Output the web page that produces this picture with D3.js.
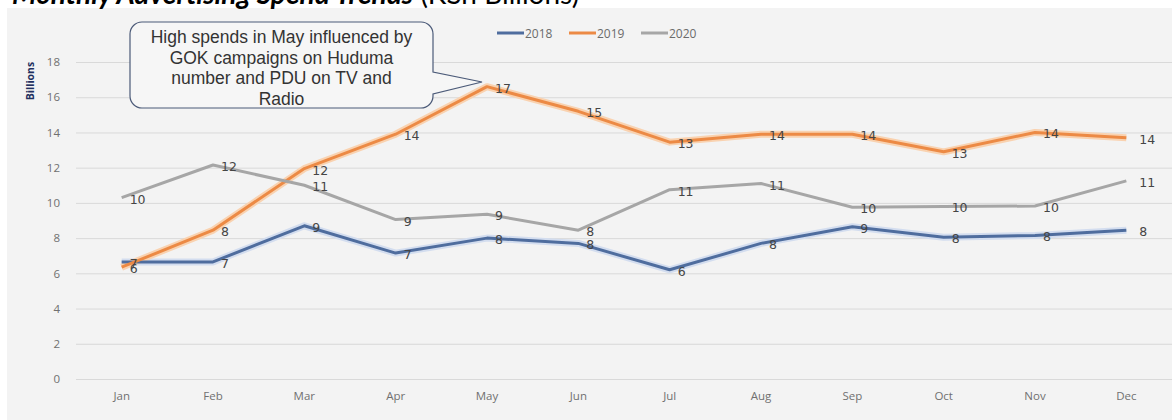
<!DOCTYPE html>
<html>
<head>
<meta charset="utf-8">
<script src="https://cdn.jsdelivr.net/npm/d3@7"></script>
<style>
    body { margin: 0; background: #fff; }
    svg { display: block; }
    .tick text { fill: #707070; font-family: 'Open Sans', sans-serif; font-size: 11.5px; }
    .value-label { fill: #454545; font-family: 'DejaVu Sans', sans-serif; font-size: 12.5px; }
</style>
</head>
<body>
<div id="chart"></div>
<script>
const months = ['Jan', 'Feb', 'Mar', 'Apr', 'May', 'Jun', 'Jul', 'Aug', 'Sep', 'Oct', 'Nov', 'Dec'];
const yearKeys = ['2018', '2019', '2020'];
const spend2018 = [6.65, 6.65, 8.7, 7.15, 8.0, 7.7, 6.2, 7.7, 8.65, 8.05, 8.15, 8.45];
const spend2019 = [6.35, 8.45, 11.95, 13.9, 16.6, 15.2, 13.45, 13.9, 13.9, 12.9, 14.0, 13.7];
const spend2020 = [10.3, 12.15, 11.0, 9.05, 9.35, 8.45, 10.75, 11.1, 9.75, 9.8, 9.82, 11.25];
const yTicks = [0, 2, 4, 6, 8, 10, 12, 14, 16, 18];
const calloutLines = ['High spends in May influenced by', 'GOK campaigns on Huduma', 'number and PDU on TV and', 'Radio'];

const COLORS = { '2018': '#4f6d9e', '2019': '#ec8a45', '2020': '#a6a6a6' };
const GLOW = { '2018': '#d3ddef', '2019': '#f9d2b0', '2020': null };

const width = 1172;
const height = 420;
const margin = { top: 62, bottom: 41, left: 76, right: 0 };

const svg = d3.select('#chart').append('svg').attr('width', width).attr('height', height);

// chart panel background
svg.append('rect').attr('x', 7).attr('y', 8).attr('width', width - 7).attr('height', height - 8).attr('fill', '#f3f3f3');

// title, mostly cut off by the top edge
const title = svg.append('text').attr('x', 12).attr('y', 4)
    .style('font-family', 'Lato, sans-serif').style('font-size', '28px').attr('fill', '#000');
title.append('tspan').style('font-weight', 'bold').style('font-style', 'italic').text('Monthly Advertising Spend Trends');
title.append('tspan').text(' (KSh Billions)');

const xScale = d3.scaleBand().domain(months).range([margin.left, width - margin.right]);
const yScale = d3.scaleLinear().domain([0, 18]).range([height - margin.bottom, margin.top]);
const cx = (m) => xScale(m) + xScale.bandwidth() / 2;

// grid lines
svg.append('g')
    .attr('transform', `translate(${margin.left}, 0)`)
    .call(d3.axisLeft(yScale).tickValues(yTicks).tickSize(-(width - margin.left - margin.right)).tickFormat(''))
    .call((g) => g.select('.domain').remove())
    .call((g) => g.selectAll('line').attr('stroke', '#d9d9d9'));

// y axis labels
svg.append('g')
    .attr('transform', `translate(${margin.left - 10}, 0)`)
    .call(d3.axisLeft(yScale).tickValues(yTicks).tickSize(0).tickPadding(6))
    .call((g) => g.select('.domain').remove());

// x axis labels
svg.append('g')
    .attr('transform', `translate(0, ${height - margin.bottom + 10})`)
    .call(d3.axisBottom(xScale).tickSize(0).tickPadding(3))
    .call((g) => g.select('.domain').remove());

svg.append('text')
    .attr('transform', 'translate(34, 81) rotate(-90)')
    .attr('text-anchor', 'middle')
    .style('font-family', 'Open Sans, sans-serif').style('font-size', '10.5px').style('font-weight', 'bold')
    .attr('fill', '#1f3060')
    .text('Billions');

const series = [
    { key: '2018', values: spend2018 },
    { key: '2019', values: spend2019 },
    { key: '2020', values: spend2020 }
];

const line = d3.line().x((d, i) => cx(months[i])).y((d) => yScale(d));

// glow under lines
svg.append('g').selectAll().data(series.filter((s) => GLOW[s.key])).enter().append('path')
    .attr('d', (s) => line(s.values)).attr('fill', 'none')
    .attr('stroke', (s) => GLOW[s.key]).attr('stroke-width', 7).attr('stroke-linejoin', 'round');

svg.append('g').selectAll().data(series).enter().append('path')
    .attr('d', (s) => line(s.values)).attr('fill', 'none')
    .attr('stroke', (s) => COLORS[s.key]).attr('stroke-width', 3).attr('stroke-linejoin', 'round');

// value labels, right of each point
const labels = [];
series.forEach((s) => s.values.forEach((v, i) => labels.push({ v, m: months[i], last: i === months.length - 1 })));
svg.append('g').selectAll().data(labels).enter().append('text')
    .attr('class', 'value-label')
    .attr('x', (d) => cx(d.m) + (d.last ? 13 : 8))
    .attr('y', (d) => yScale(d.v) + 6)
    .text((d) => d3.format('.0f')(d.v));

// legend
const legend = svg.append('g').selectAll().data(yearKeys).enter().append('g')
    .attr('transform', (k, i) => `translate(${497 + i * 72}, 33)`);
legend.append('line').attr('x1', 0).attr('x2', 27).attr('stroke', (k) => COLORS[k]).attr('stroke-width', 3);
legend.append('text').attr('x', 28).attr('y', 4.5)
    .style('font-family', 'Open Sans, sans-serif').style('font-size', '12px').attr('fill', '#6b6b6b')
    .text((k) => k);

// callout box pointing at May peak
const box = { x0: 130, y0: 22, x1: 433, y1: 108, r: 12 };
const tip = { x: cx('May') - 5, y: 82 };
const p = d3.path();
p.moveTo(box.x0 + box.r, box.y0);
p.lineTo(box.x1 - box.r, box.y0);
p.arcTo(box.x1, box.y0, box.x1, box.y0 + box.r, box.r);
p.lineTo(box.x1, 72);
p.lineTo(tip.x, tip.y);
p.lineTo(box.x1, 94);
p.lineTo(box.x1, box.y1 - box.r);
p.arcTo(box.x1, box.y1, box.x1 - box.r, box.y1, box.r);
p.lineTo(box.x0 + box.r, box.y1);
p.arcTo(box.x0, box.y1, box.x0, box.y1 - box.r, box.r);
p.lineTo(box.x0, box.y0 + box.r);
p.arcTo(box.x0, box.y0, box.x0 + box.r, box.y0, box.r);
p.closePath();
svg.append('path').attr('d', p.toString()).attr('fill', '#f6f6f6').attr('stroke', '#4b5a78').attr('stroke-width', 1.2);

svg.append('g').selectAll().data(calloutLines).enter().append('text')
    .attr('x', (box.x0 + box.x1) / 2)
    .attr('y', (d, i) => 43 + i * 20.5)
    .attr('text-anchor', 'middle')
    .style('font-family', 'Liberation Sans, Arial, sans-serif').style('font-size', '17.5px')
    .attr('fill', '#333')
    .text((d) => d);
</script>
</body>
</html>
